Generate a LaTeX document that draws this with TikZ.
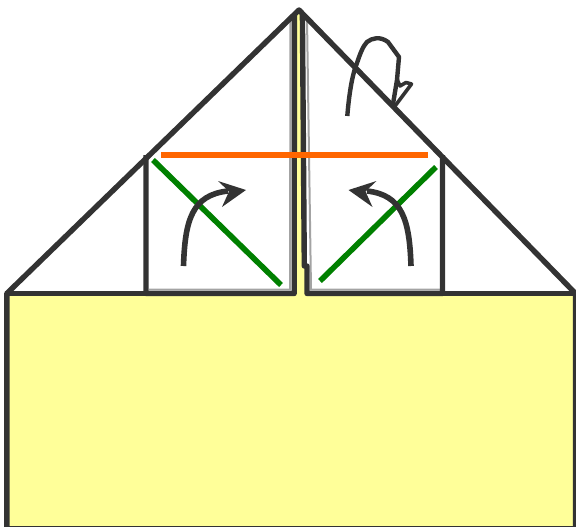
\documentclass[tikz,border=0pt]{standalone}
\definecolor{paper}{RGB}{255,255,153}
\definecolor{ink}{RGB}{51,51,51}
\definecolor{creasegreen}{RGB}{0,128,0}
\definecolor{creaseorange}{RGB}{255,102,0}
\tikzset{
    outline/.style={draw=ink, line width=5.4pt, line join=round},
    fringe/.style={draw=ink!45, line width=2pt},
    crease/.style={line width=5.6pt},
    foldarrow/.style={draw=ink, line width=5.6pt},
    foldhead/.style={fill=ink, draw=none},
}
\begin{document}
\begin{tikzpicture}[x=1pt, y=-1pt]
    \useasboundingbox (0,0) rectangle (576,527);

    \coordinate (apex) at (299,10);
    \coordinate (baseL) at (6.8,293.5);
    \coordinate (baseR) at (575.5,293.5);
    \coordinate (botL) at (6.8,527);
    \coordinate (botR) at (575.5,527);
    \coordinate (flapLt) at (146,155);
    \coordinate (flapLb) at (146,293.5);
    \coordinate (flapRt) at (442.5,155);
    \coordinate (flapRb) at (442.5,293.5);

    % paper
    \fill[paper] (baseL) -- (baseR) -- (botR) -- (botL) -- cycle;
    \fill[paper] (294,14) -- (304,14) -- (305,266) -- (306,266) -- (306,296) -- (294,296) -- cycle;

    % fringes beside the flaps
    \draw[fringe] (149,289.5) -- (290,289.5) -- (290.5,18);
    \draw[fringe] (440,289.5) -- (311,289.5) -- (307,18);

    % flaps
    \draw[outline] (flapLt) -- (flapLb) -- (294.2,293.5) -- (294.4,14);
    \draw[outline] (flapRt) -- (flapRb) -- (307,293.5) -- (307,266) -- (304.3,266) -- (302.4,14);

    % outer edge
    \draw[outline] (botL) -- (baseL) -- (apex) -- (baseR) -- (botR);
    \draw[outline] (baseL) -- (flapLb);
    \draw[outline] (flapRb) -- (baseR);
    \draw[draw=ink, line width=1.6pt] (botL) -- (botR);

    % creases
    \draw[creasegreen, crease] (153,160) -- (281,285);
    \draw[creasegreen, crease] (436,167) -- (320,281);
    \draw[creaseorange, crease] (161,155) -- (428,155);

    % arrows
    \draw[foldarrow] (183.5,266) .. controls (185,220) and (192,195) .. (228,191);
    \fill[foldhead] (218,181) -- (246,190) -- (222,207) -- (229,191.5) -- cycle;
    \draw[foldarrow] (411,266) .. controls (409.5,220) and (402.5,195) .. (367,191);
    \fill[foldhead] (376.5,181) -- (348.5,190) -- (372.5,207) -- (365.5,191.5) -- cycle;

    % folded corner
    \draw[draw=ink, line width=4.4pt, line join=round]
        (347.3,116) .. controls (349,95) and (352,75) .. (357,63)
        .. controls (360,54) and (363,46) .. (367,42)
        .. controls (372,38) and (380,36) .. (388,42)
        -- (399,57) -- (397,80) -- (393,104);
    \draw[draw=ink, line width=3.6pt, line join=round]
        (395,106) -- (411.5,84) -- (406,82.5) -- (400,86) -- (397,79);
\end{tikzpicture}
\end{document}
